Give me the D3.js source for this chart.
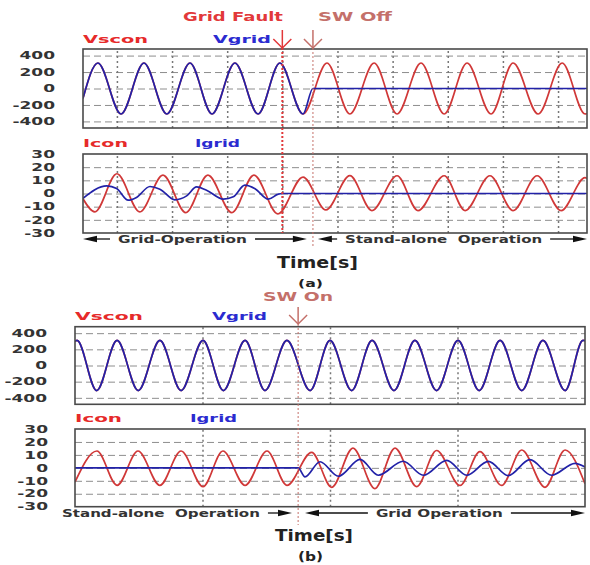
<!DOCTYPE html>
<html lang="en">
<head>
<meta charset="utf-8">
<title>Grid fault / SW on waveforms</title>
<script src="https://d3js.org/d3.v7.min.js"></script>
<style>
  body { margin: 0; background: #fff; }
  svg { display: block; font-family: "DejaVu Sans", sans-serif; }
  text { white-space: pre; }
</style>
</head>
<body>
<div id="chart"></div>
<script>
// values, time in ms
var vTicks = [-400, -200, 0, 200, 400];
var iTicks = [-30, -20, -10, 0, 10, 20, 30];
var timeGridA = [300, 320, 340, 360, 380, 400, 420, 440, 460];
var timeGridB = [250, 300, 350];

// (a) grid fault then SW off
var eventsA = [["Grid Fault", 360], ["SW Off", 371.1]];
var vsconA = [[287.7,-120],[293.1,310],[301.5,-310],[309.8,310],[318.1,-310],[326.5,310],[334.5,-310],
  [342.8,310],[351.2,-310],[359.1,310],[367.5,-310],[376.2,310],[384.5,-310],[393.3,310],[401.6,-310],
  [410.3,310],[418.7,-310],[427.0,310],[435.7,-310],[443.7,310],[452.8,-310],[461.5,310],[469.8,-310],[470.5,-305]];
var vgridA = [[287.7,-120],[293.1,310],[301.5,-310],[309.8,310],[318.1,-310],[326.5,310],[334.5,-310],
  [342.8,310],[351.2,-310],[359.1,310],[367.5,-310],[371.1,0],[470.5,0]];
var iconA = [[287.7,-4],[292.0,-14],[300.0,15],[308.3,-14],[316.7,14],[325.0,-14.5],[333.0,14],[341.7,-14.5],
  [349.7,14],[358.4,-15.5],[367.5,12.5],[375.8,-12.5],[384.5,13.5],[392.5,-13],[401.6,13.5],[409.2,-13],
  [418.7,13.5],[426.3,-13],[435.3,13.5],[443.7,-13],[452.4,13.5],[461.1,-13],[469.8,12],[470.5,11.5]];
var igridA = [[287.7,-3.6],[296.3,5.8],[299.9,3.8],[304.1,-5.1],[307.1,-3.0],[312.0,5.3],[315.6,3.3],
  [321.0,-4.8],[325.3,-1.8],[328.9,5.0],[332.5,2.5],[338.6,-4.3],[342.2,-2.5],[346.4,6.3],[350.1,3.6],
  [354.9,-4.3],[358.5,-0.5],[360,0],[470.5,0]];
var spansA = [["Grid-Operation", 287.7, 368.9, 323.8, true], ["Stand-alone  Operation", 372.9, 470.5, 418.5, true]];

// (b) SW on
var eventsB = [["SW On", 287.5]];
var vgridB = [[200,300],[200.8,310],[208.5,-310],[216.5,310],[224.8,-310],[233.3,310],[241.6,-310],
  [250.2,310],[258.2,-310],[266.7,310],[274.5,-310],[283.1,310],[292.2,-310],[300,310],[308.5,-310],
  [316.5,310],[325.1,-310],[333.3,310],[341.8,-310],[350.2,310],[358.5,-310],[366.7,310],[375.2,-310],
  [383.5,310],[392.2,-310],[399.2,310],[400,308]];
var vsconB = vgridB; // lies under Vgrid the whole time
var iconB = [[200,-11],[208.6,13],[216.5,-13.5],[224.7,13],[233.3,-13.5],[241.6,13],[250.2,-14.5],
  [258.0,13],[266.7,-13.5],[275.3,13],[283.1,-13.5],[292.8,12],[300.7,-15],[309.0,15.3],[317.6,-16],
  [325.5,15.3],[334.0,-14.5],[341.8,13.4],[351.0,-13.6],[358.8,12.6],[367.3,-13.6],[375.2,13.8],
  [384.3,-15],[392.2,13.8],[400,-12.3]];
var igridB = [[200,0],[287.5,0],[290.2,-7],[296.1,4.7],[303.3,-6.5],[311.8,6.5],[318.9,-5.7],[328.7,5.1],
  [336.6,-5.7],[345.8,5.8],[353.6,-5.7],[362.1,5],[369.9,-6],[378.4,6.3],[386.9,-5.7],[396.1,3.5],[400,0.7]];
var spansB = [["Stand-alone  Operation", 194.9, 285.1, 233.7, false], ["Grid Operation", 290.2, 400, 342.9, true]];

var red = "#d03838", blue = "#2222a8", labRed = "#e62a2a", labBlue = "#2b2bd0",
    faultCol = "#e2383a", swCol = "#c4706a", ink = "#333";

var svg = d3.select("#chart").append("svg").attr("width", 590).attr("height", 565);

// stretch a text to the width it has in the picture
function fit(sel, w) {
  sel.attr("textLength", w).attr("lengthAdjust", "spacingAndGlyphs");
}
function label(txt, x, y, w, size, col) {
  var t = svg.append("text").attr("x", x).attr("y", y).text(txt)
    .attr("font-size", size).attr("font-weight", "bold").attr("fill", col);
  fit(t, w);
  return t;
}

var clipId = 0;
function plot(x, y, y0, y1, grid, tgrid, ticks, labelX, series) {
  var x0 = x.range()[0], x1 = x.range()[1];
  var g = svg.append("g");

  g.append("g").attr("transform", "translate(" + x0 + ",0)")
    .call(d3.axisLeft(y).tickValues(grid).tickSize(-(x1 - x0)).tickFormat(""))
    .call(function(s) { s.select(".domain").remove(); })
    .selectAll("line").attr("stroke", "#8e8e8e").attr("stroke-dasharray", "7,4");

  g.append("g").attr("transform", "translate(0," + y1 + ")")
    .call(d3.axisBottom(x).tickValues(tgrid).tickSize(-(y1 - y0)).tickFormat(""))
    .call(function(s) { s.select(".domain").remove(); })
    .selectAll("line").attr("stroke", "#777").attr("stroke-width", 1.5).attr("stroke-dasharray", "2,3");

  var id = "clip" + (clipId++);
  svg.append("clipPath").attr("id", id).append("rect")
    .attr("x", x0).attr("y", y0).attr("width", x1 - x0).attr("height", y1 - y0);

  var line = d3.line().x(function(d) { return x(d[0]); }).y(function(d) { return y(d[1]); })
    .curve(d3.curveMonotoneX);
  series.forEach(function(s) {
    g.append("path").datum(s[0]).attr("clip-path", "url(#" + id + ")")
      .attr("d", line).attr("fill", "none").attr("stroke", s[1]).attr("stroke-width", 1.7);
  });

  g.append("rect").attr("x", x0).attr("y", y0).attr("width", x1 - x0).attr("height", y1 - y0)
    .attr("fill", "none").attr("stroke", "#4a4a4a").attr("stroke-width", 1.6);

  var ax = svg.append("g").attr("transform", "translate(" + labelX + ",0)")
    .call(d3.axisLeft(y).tickValues(ticks).tickSize(0).tickPadding(0).tickFormat(function(d) { return String(d); }));
  ax.select(".domain").remove();
  ax.selectAll("text").attr("font-family", "DejaVu Sans").attr("font-size", 10)
    .attr("font-weight", "bold").attr("fill", ink)
    .each(function() { fit(d3.select(this), this.getComputedTextLength() * 1.7); });
}

function marker(xp, top, tip, bottom, col, lw) {
  svg.append("line").attr("x1", xp).attr("x2", xp).attr("y1", tip).attr("y2", bottom)
    .attr("stroke", col).attr("stroke-width", lw).attr("stroke-dasharray", "2,2");
  svg.append("line").attr("x1", xp).attr("x2", xp).attr("y1", top).attr("y2", tip)
    .attr("stroke", col).attr("stroke-width", 1.5);
  svg.append("polyline").attr("points", [[xp - 9, tip - 9], [xp, tip], [xp + 9, tip - 9]].join(" "))
    .attr("fill", "none").attr("stroke", col).attr("stroke-width", 1.5);
}

function head(xt, y, dir) {
  svg.append("path").attr("d", "M" + xt + "," + y + "L" + (xt - dir * 14) + "," + (y - 3.2) +
    "L" + (xt - dir * 14) + "," + (y + 3.2) + "Z").attr("fill", "#111");
}

function spans(x, list, widths, y) {
  list.forEach(function(s, i) {
    var w = widths[i], xc = x(s[3]), ts = xc - w / 2, te = xc + w / 2;
    var xa = x(s[1]), xb = x(s[2]);
    var t = svg.append("text").attr("x", ts).attr("y", y + 4).text(s[0])
      .attr("font-size", 11).attr("font-weight", "bold").attr("fill", ink);
    fit(t, w);
    if (s[4]) {
      svg.append("line").attr("x1", xa + 6).attr("x2", ts - 8).attr("y1", y).attr("y2", y)
        .attr("stroke", "#111").attr("stroke-width", 1.3);
      head(xa, y, -1);
    }
    svg.append("line").attr("x1", te + 8).attr("x2", xb - 6).attr("y1", y).attr("y2", y)
      .attr("stroke", "#111").attr("stroke-width", 1.3);
    head(xb, y, 1);
  });
}

// ---- panel (a) ----
var xA = d3.scaleLinear().domain([287.7, 470.5]).range([83, 587]);
var yVA = d3.scaleLinear().domain([-480, 480]).range([128, 49]);
var yIA = d3.scaleLinear().domain([-30, 30]).range([233, 154]);
plot(xA, yVA, 49, 128, vTicks, timeGridA, vTicks, 55, [[vsconA, red], [vgridA, blue]]);
plot(xA, yIA, 154, 233, iTicks.filter(function(d) { return Math.abs(d) < 30; }), timeGridA, iTicks, 55,
  [[iconA, red], [igridA, blue]]);

marker(xA(eventsA[0][1]), 30, 48, 233, faultCol, 2);
marker(xA(eventsA[1][1]), 30, 48, 246, swCol, 1);
label(eventsA[0][0], 183, 20.5, 100, 12.5, faultCol);
label(eventsA[1][0], 318, 20.5, 74, 12.5, swCol);

label("Vscon", 83, 43, 65, 11, labRed);
label("Vgrid", 213, 43, 58, 11, labBlue);
label("Icon", 83, 147, 45, 11, labRed);
label("Igrid", 195, 147, 45, 11, labBlue);

spans(xA, spansA, [129, 197], 239);
label("Time[s]", 277, 268, 81, 15, "#222");
label("(a)", 298, 287, 25, 11, "#222");

// ---- panel (b) ----
var xB = d3.scaleLinear().domain([200, 400]).range([75, 585]);
var yVB = d3.scaleLinear().domain([-480, 480]).range([404.3, 326.7]);
var yIB = d3.scaleLinear().domain([-30, 30]).range([506.7, 429]);
plot(xB, yVB, 326.7, 404.3, vTicks, timeGridB, vTicks, 47, [[vsconB, red], [vgridB, blue]]);
plot(xB, yIB, 429, 506.7, iTicks.filter(function(d) { return Math.abs(d) < 30; }), timeGridB, iTicks, 48,
  [[iconB, red], [igridB, blue]]);

marker(xB(eventsB[0][1]), 307, 324, 525, swCol, 1);
label(eventsB[0][0], 263, 301, 70, 12, swCol);

label("Vscon", 75, 319.5, 68, 11, labRed);
label("Vgrid", 212, 319.5, 55, 11, labBlue);
label("Icon", 75, 421.7, 47, 11, labRed);
label("Igrid", 190, 421.7, 47, 11, labBlue);

spans(xB, spansB, [198, 127], 513);
label("Time[s]", 275, 540.5, 78, 15, "#222");
label("(b)", 298, 561, 25, 12, "#222");
</script>
</body>
</html>
